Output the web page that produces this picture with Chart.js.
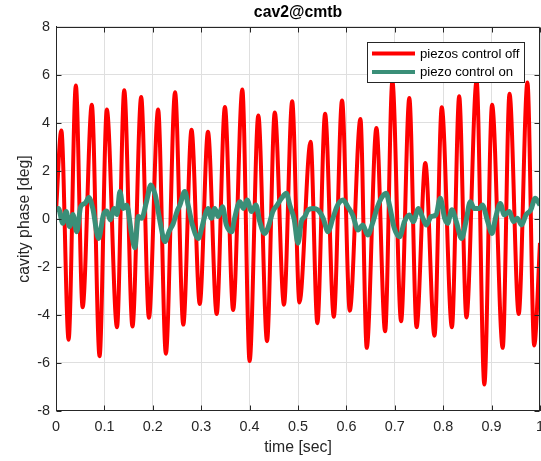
<!DOCTYPE html>
<html>
<head>
<meta charset="utf-8">
<title>cav2@cmtb</title>
<script src="https://cdn.jsdelivr.net/npm/chart.js@4/dist/chart.umd.min.js"></script>
<style>
  html, body { margin: 0; padding: 0; background: #ffffff; }
  #wrap { width: 541px; height: 461px; }
</style>
</head>
<body>
<div id="wrap"><canvas id="c" width="541" height="461"></canvas></div>
<script>
// Cavity phase with piezo control switched off (turning points of the trace)
const redTime = [0.000, 0.011, 0.026, 0.041, 0.055, 0.074, 0.090, 0.105, 0.126, 0.141,
  0.158, 0.176, 0.192, 0.211, 0.227, 0.246, 0.263, 0.280, 0.297, 0.314,
  0.332, 0.349, 0.366, 0.385, 0.400, 0.418, 0.436, 0.452, 0.471, 0.488,
  0.503, 0.526, 0.540, 0.556, 0.574, 0.591, 0.607, 0.629, 0.642, 0.662,
  0.680, 0.695, 0.713, 0.730, 0.745, 0.763, 0.782, 0.797, 0.818, 0.833,
  0.848, 0.869, 0.885, 0.901, 0.923, 0.937, 0.956, 0.974, 0.988, 1.000];
const redPhase = [0.30, 3.69, -5.03, 5.56, -3.68, 4.76, -5.72, 4.56, -4.51, 5.36,
  -4.48, 5.08, -4.12, 4.56, -5.61, 5.28, -4.40, 3.72, -3.54, 3.63,
  -3.96, 4.67, -3.79, 5.39, -5.92, 4.31, -5.09, 4.44, -3.57, 4.90,
  -3.48, 3.22, -4.34, 4.38, -4.07, 4.94, -3.82, 4.17, -5.37, 3.79,
  -4.68, 5.74, -4.26, 5.04, -4.51, 2.33, -4.86, 4.65, -4.51, 5.11,
  -4.10, 5.76, -6.90, 4.76, -5.37, 5.22, -3.96, 5.69, -5.27, -1.00];

// Cavity phase with piezo control switched on
const greenTime = [0.000, 0.005, 0.014, 0.021, 0.028, 0.035, 0.043, 0.051, 0.060, 0.068,
  0.076, 0.088, 0.098, 0.105, 0.112, 0.120, 0.126, 0.132, 0.139, 0.146,
  0.156, 0.163, 0.170, 0.177, 0.187, 0.196, 0.205, 0.215, 0.225, 0.234,
  0.242, 0.250, 0.256, 0.266, 0.273, 0.282, 0.294, 0.301, 0.308, 0.314,
  0.321, 0.328, 0.335, 0.344, 0.352, 0.363, 0.369, 0.380, 0.387, 0.395,
  0.404, 0.413, 0.421, 0.431, 0.440, 0.448, 0.457, 0.466, 0.476, 0.483,
  0.492, 0.500, 0.507, 0.514, 0.521, 0.531, 0.541, 0.552, 0.562, 0.572,
  0.582, 0.593, 0.603, 0.613, 0.624, 0.634, 0.644, 0.655, 0.663, 0.672,
  0.682, 0.689, 0.699, 0.710, 0.720, 0.730, 0.738, 0.749, 0.758, 0.765,
  0.775, 0.785, 0.794, 0.803, 0.809, 0.818, 0.827, 0.838, 0.847, 0.856,
  0.864, 0.875, 0.881, 0.892, 0.901, 0.908, 0.918, 0.926, 0.937, 0.945,
  0.953, 0.962, 0.971, 0.981, 0.990, 1.000];
const greenPhase = [0.37, 0.44, -0.18, 0.31, -0.32, 0.19, -0.53, 0.51, 0.65, 0.89,
  0.44, -0.81, 0.17, 0.33, -0.04, 0.44, 0.19, 1.14, 0.44, 0.58,
  -0.60, -1.20, 0.10, 0.03, 0.72, 1.42, 1.00, -0.11, -0.94, -0.50,
  -0.20, 0.31, 0.58, 1.14, 0.58, -0.25, -0.81, -0.39, 0.17, 0.44,
  0.03, 0.44, 0.10, 0.51, -0.25, -0.53, 0.03, 0.72, 0.44, 0.79,
  0.31, 0.58, -0.11, -0.60, -0.25, 0.31, 0.58, 0.86, 1.07, 0.58,
  0.00, -1.01, -0.11, 0.10, 0.38, 0.44, 0.38, 0.03, -0.53, 0.03,
  0.58, 0.79, 0.51, 0.17, -0.46, -0.25, -0.67, -0.11, 0.44, 0.86,
  1.07, 0.58, -0.39, -0.74, -0.11, 0.17, -0.11, 0.44, 0.03, -0.25,
  0.10, 0.17, 0.86, 0.03, -0.18, 0.38, -0.11, -0.81, -0.11, 0.72,
  0.44, 0.44, 0.58, -0.11, -0.60, 0.03, 0.65, 0.17, 0.31, -0.11,
  0.03, -0.25, 0.17, 0.38, 0.86, 0.58];

const xTickValues = [0, 0.1, 0.2, 0.3, 0.4, 0.5, 0.6, 0.7, 0.8, 0.9, 1];
const yTickValues = [-8, -6, -4, -2, 0, 2, 4, 6, 8];
const seriesNames = ['piezos control off', 'piezo control on'];
const seriesColors = ['#ff0000', '#3a8f78'];

const AXIS_COLOR = '#262626';
const GRID_COLOR = '#dfdfdf';
const FONT = '"Liberation Sans", Arial, Helvetica, sans-serif';

const toPoints = (t, v) => t.map((x, i) => ({ x: x, y: v[i] }));

// Centre the title over the plotting area rather than the whole canvas
const titleOverAxes = {
  id: 'titleOverAxes',
  afterLayout(chart) {
    const a = chart.chartArea;
    const tb = chart.titleBlock;
    if (tb) { tb.left = a.left; tb.right = a.right; tb.width = a.right - a.left; }
  }
};

// Closed axes box with inward-pointing tick marks on all four sides
const axesBox = {
  id: 'axesBox',
  afterDatasetsDraw(chart) {
    const { ctx, chartArea: a, scales } = chart;
    const len = 5;
    ctx.save();
    ctx.strokeStyle = AXIS_COLOR;
    ctx.lineWidth = 1;
    const L = Math.round(a.left) + 0.5, R = Math.round(a.right) - 0.5;
    const T = Math.round(a.top) + 0.5, B = Math.round(a.bottom) - 0.5;
    ctx.beginPath();
    ctx.rect(L, T, R - L, B - T);
    xTickValues.forEach(v => {
      const px = Math.round(scales.x.getPixelForValue(v)) + 0.5;
      ctx.moveTo(px, B); ctx.lineTo(px, B - len);
      ctx.moveTo(px, T); ctx.lineTo(px, T + len);
    });
    yTickValues.forEach(v => {
      const py = Math.round(scales.y.getPixelForValue(v)) + 0.5;
      ctx.moveTo(L, py); ctx.lineTo(L + len, py);
      ctx.moveTo(R, py); ctx.lineTo(R - len, py);
    });
    ctx.stroke();
    ctx.restore();
  }
};

// Boxed legend in the upper right corner of the axes
const boxedLegend = {
  id: 'boxedLegend',
  afterDraw(chart) {
    const { ctx } = chart;
    const bx = 367.5, by = 42.5, bw = 157, bh = 40;
    ctx.save();
    ctx.fillStyle = '#ffffff';
    ctx.fillRect(bx, by, bw, bh);
    ctx.strokeStyle = AXIS_COLOR;
    ctx.lineWidth = 1;
    ctx.strokeRect(bx, by, bw, bh);
    ctx.font = '13.2px ' + FONT;
    ctx.textBaseline = 'middle';
    ctx.textAlign = 'left';
    chart.data.datasets.forEach((ds, i) => {
      const y = by + 11 + i * 18.4;
      ctx.strokeStyle = ds.borderColor;
      ctx.lineWidth = 4;
      ctx.beginPath();
      ctx.moveTo(372, y); ctx.lineTo(415, y);
      ctx.stroke();
      ctx.fillStyle = '#000000';
      ctx.fillText(ds.label, 420, y + 0.5);
    });
    ctx.restore();
  }
};

new Chart(document.getElementById('c'), {
  type: 'line',
  data: {
    datasets: [
      {
        label: seriesNames[0],
        data: toPoints(redTime, redPhase),
        borderColor: seriesColors[0],
        borderWidth: 4,
        pointRadius: 0,
        cubicInterpolationMode: 'monotone',
        fill: false,
        order: 1
      },
      {
        label: seriesNames[1],
        data: toPoints(greenTime, greenPhase),
        borderColor: seriesColors[1],
        borderWidth: 5,
        pointRadius: 0,
        cubicInterpolationMode: 'monotone',
        fill: false,
        order: 0
      }
    ]
  },
  options: {
    responsive: false,
    animation: false,
    devicePixelRatio: 1,
    layout: { padding: { top: 0, right: 1, bottom: 0, left: 0 } },
    plugins: {
      legend: { display: false },
      tooltip: { enabled: false },
      title: {
        display: true,
        text: 'cav2@cmtb',
        color: '#000000',
        font: { family: FONT, size: 15.8, weight: 'bold', lineHeight: 1.2 },
        padding: { top: 3, bottom: 5 }
      }
    },
    scales: {
      x: {
        type: 'linear',
        min: 0, max: 1,
        afterBuildTicks: s => { s.ticks = xTickValues.map(v => ({ value: v })); },
        afterFit: s => { s.height = 50; s.paddingLeft = 0; s.paddingRight = 0; },
        ticks: {
          color: AXIS_COLOR,
          font: { family: FONT, size: 14.4 },
          padding: 7,
          maxRotation: 0,
          autoSkip: false,
          callback: v => String(v)
        },
        grid: { color: GRID_COLOR, drawTicks: false },
        border: { color: AXIS_COLOR, width: 1 },
        title: {
          display: true,
          text: 'time [sec]',
          color: AXIS_COLOR,
          font: { family: FONT, size: 15.8 },
          padding: { top: 0, bottom: 4 }
        }
      },
      y: {
        type: 'linear',
        min: -8, max: 8,
        afterBuildTicks: s => { s.ticks = yTickValues.map(v => ({ value: v })); },
        afterFit: s => { s.width = 56; s.paddingTop = 0; s.paddingBottom = 0; },
        ticks: {
          color: AXIS_COLOR,
          font: { family: FONT, size: 14.4 },
          padding: 6,
          autoSkip: false,
          callback: v => String(v)
        },
        grid: { color: GRID_COLOR, drawTicks: false },
        border: { color: AXIS_COLOR, width: 1 },
        title: {
          display: true,
          text: 'cavity phase [deg]',
          color: AXIS_COLOR,
          font: { family: FONT, size: 15.8 },
          padding: { top: 15, bottom: 0 }
        }
      }
    }
  },
  plugins: [titleOverAxes, axesBox, boxedLegend]
});
</script>
</body>
</html>
